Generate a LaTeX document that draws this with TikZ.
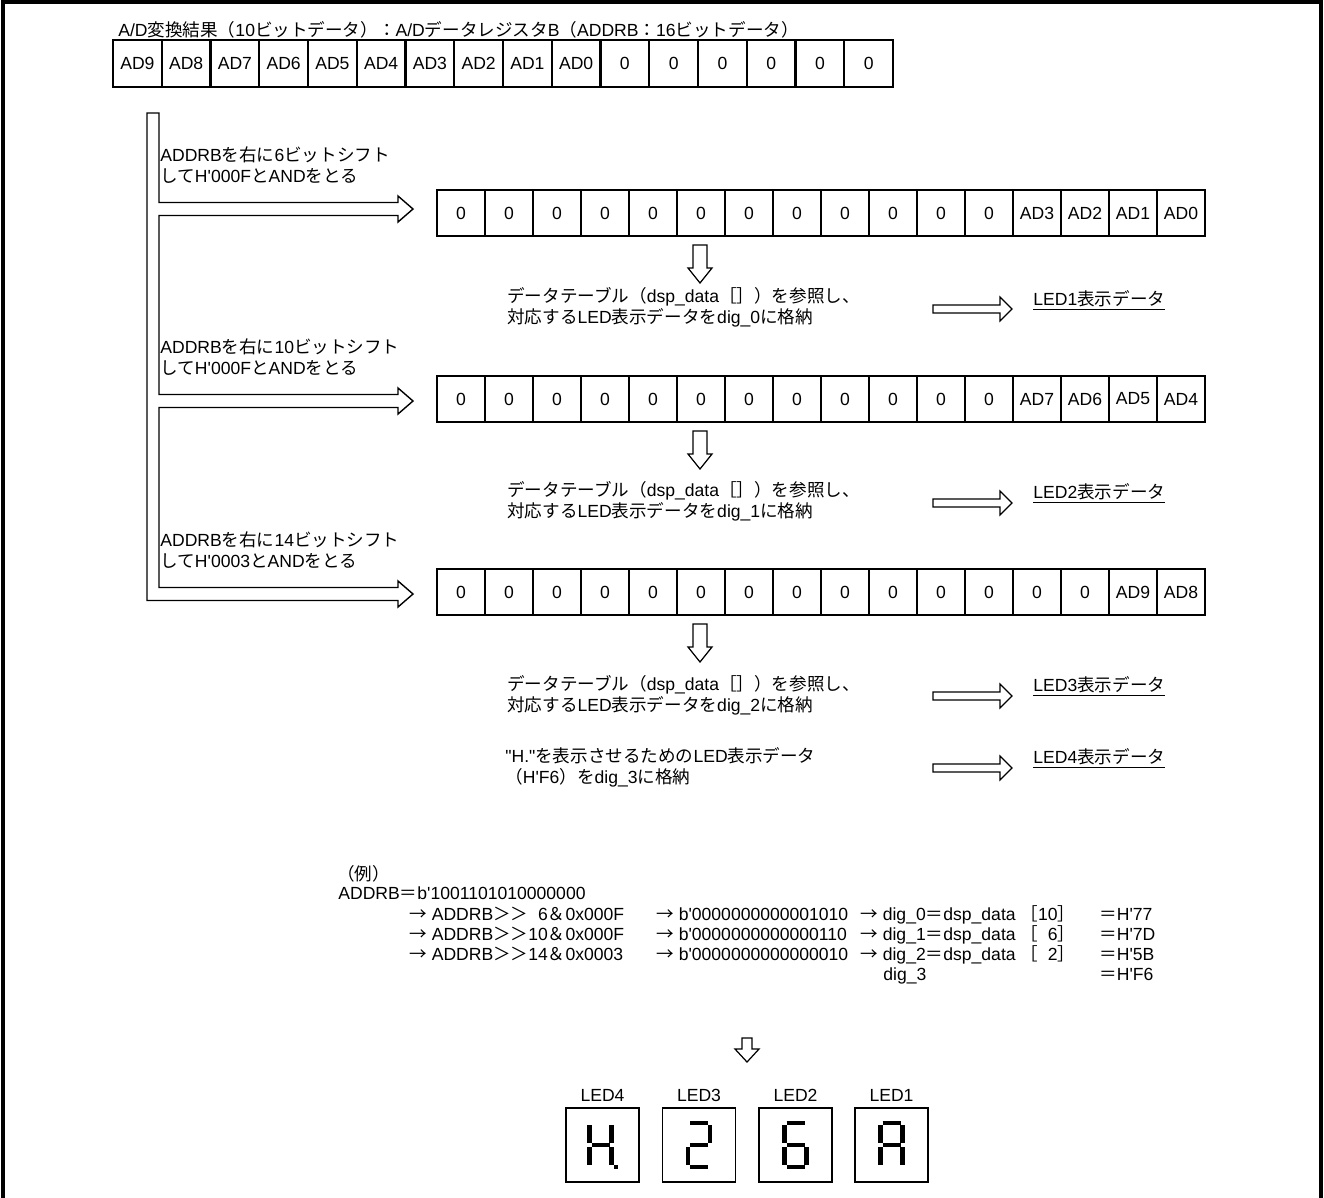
\documentclass[tikz,border=0pt]{standalone}
\usepackage{fontspec}
\setmainfont{Liberation Sans}[Ligatures=TeXOff]
\newfontfamily\jpfont{Noto Sans CJK JP}
% Japanese characters switch to the CJK font by themselves
\XeTeXinterchartokenstate=1
\newXeTeXintercharclass\jpclass
\makeatletter
\newcommand{\jprange}[2]{\count@=#1\relax
  \loop\XeTeXcharclass\count@=\jpclass
  \ifnum\count@<#2\relax\advance\count@ 1\repeat}
\makeatother
\jprange{"2190}{"2193}
\jprange{"3000}{"30FF}
\jprange{"4E00}{"9FFF}
\jprange{"FF00}{"FFEF}
\XeTeXinterchartoks 0 \jpclass = {\begingroup\jpfont}
\XeTeXinterchartoks 4095 \jpclass = {\begingroup\jpfont}
\XeTeXinterchartoks \jpclass 0 = {\endgroup}
\XeTeXinterchartoks \jpclass 4095 = {\endgroup}
\usepackage{tikz}
\tikzstyle{cnode} = [draw, line width=1.3pt, minimum width=0.96cm, minimum height=0.92cm, inner sep=0pt]
\tikzstyle{tnode} = [inner sep=0pt, anchor=west, align=left]
\tikzstyle{bnode} = [inner sep=0pt, anchor=base west]
\tikzstyle{ledbox} = [draw, line width=1pt, minimum width=1.46cm, minimum height=1.48cm, inner sep=0pt]
\tikzstyle{lnode} = [inner sep=0pt]
\tikzstyle{seg} = [line width=0.085cm]
\tikzstyle{line} = [draw, line width=0.8pt]
\tikzset{
  darrow/.pic={\draw[line width=0.7pt] (-7,0) -- (7,0) -- (7,23) -- (12,23) -- (0,38) -- (-12,23) -- (-7,23) -- cycle;},
  sarrow/.pic={\draw[line width=0.7pt] (-5,0) -- (5,0) -- (5,11) -- (12,11) -- (0,24) -- (-12,11) -- (-5,11) -- cycle;},
  rarrow/.pic={\draw[line width=0.7pt] (0,-4) -- (67,-4) -- (67,-12) -- (79,0) -- (67,12) -- (67,4) -- (0,4) -- cycle;}
}
% one segment of a LED digit: 0..6 = a..g, 7 = point
\newcommand{\ledseg}[1]{%
  \ifcase#1 \draw[seg] (-9,-22) -- (9,-22);
  \or \draw[seg] (11,-20) -- (11,-2);
  \or \draw[seg] (11,2) -- (11,20);
  \or \draw[seg] (-9,22) -- (9,22);
  \or \draw[seg] (-11,2) -- (-11,20);
  \or \draw[seg] (-11,-20) -- (-11,-2);
  \or \draw[seg] (-9,0) -- (9,0);
  \or \fill (13.5,20) rectangle (17.5,24);
  \fi}

\begin{document}
\begin{tikzpicture}[x=0.02cm, y=-0.02cm, font=\fontsize{10pt}{11.9pt}\selectfont, label distance=0.1cm]
\useasboundingbox (0,0) rectangle (1324,1197);
\draw[line width=0.07cm] (3,1200) -- (3,2) -- (1321,2) -- (1321,1200);

% A/D data register
\node[bnode] (title) at (118,36) {A/D変換結果（10ビットデータ）：A/DデータレジスタB（ADDRB：16ビットデータ）};
\foreach \lab [count=\i from 0] in {AD9,AD8,AD7,AD6,AD5,AD4,AD3,AD2,AD1,AD0,0,0,0,0,0,0}
  \node[cnode, minimum width=0.975cm, minimum height=0.94cm] (top\i) at ({137.375+48.75*\i}, 63.5) {\lab};

% shift paths
\path [line] (159,113) -- (159,202.5) -- (398,202.5) -- (398,196) -- (413,209) -- (398,222) -- (398,215.5)
  -- (159,215.5) -- (159,394.5) -- (398,394.5) -- (398,388) -- (413,401) -- (398,414) -- (398,407.5)
  -- (159,407.5) -- (159,587.5) -- (398,587.5) -- (398,581) -- (413,594) -- (398,607) -- (398,600.5)
  -- (147,600.5) -- (147,113) -- cycle;

\node[tnode] (sh1) at (160,165.5) {ADDRBを右に6ビットシフト\\してH'000FとANDをとる};
\node[tnode] (sh2) at (160,357.5) {ADDRBを右に10ビットシフト\\してH'000FとANDをとる};
\node[tnode] (sh3) at (160,550.5) {ADDRBを右に14ビットシフト\\してH'0003とANDをとる};

\foreach \lab [count=\i from 0] in {0,0,0,0,0,0,0,0,0,0,0,0,AD3,AD2,AD1,AD0}
  \node[cnode] (ra\i) at ({461+48*\i}, 213) {\lab};
\foreach \lab [count=\i from 0] in {0,0,0,0,0,0,0,0,0,0,0,0,AD7,AD6,AD5,AD4}
  \node[cnode] (rb\i) at ({461+48*\i}, 399) {\lab};
\foreach \lab [count=\i from 0] in {0,0,0,0,0,0,0,0,0,0,0,0,0,0,AD9,AD8}
  \node[cnode] (rc\i) at ({461+48*\i}, 592) {\lab};

% table lookups
\pic at (700,245) {darrow};
\pic at (700,431) {darrow};
\pic at (700,624) {darrow};
\node[tnode] (tab1) at (507,307.5) {データテーブル（dsp\_data［］）を参照し、\\対応するLED表示データをdig\_0に格納};
\node[tnode] (tab2) at (507,501.5) {データテーブル（dsp\_data［］）を参照し、\\対応するLED表示データをdig\_1に格納};
\node[tnode] (tab3) at (507,695.5) {データテーブル（dsp\_data［］）を参照し、\\対応するLED表示データをdig\_2に格納};
\node[tnode] (tab4) at (505,767.5) {"H."を表示させるためのLED表示データ\\（H'F6）をdig\_3に格納};
\pic at (933,309) {rarrow};
\pic at (933,503) {rarrow};
\pic at (933,696) {rarrow};
\pic at (933,768) {rarrow};
\node[bnode] (d1) at (1033,305) {\underline{LED1表示データ}};
\node[bnode] (d2) at (1033,498) {\underline{LED2表示データ}};
\node[bnode] (d3) at (1033,691) {\underline{LED3表示データ}};
\node[bnode] (d4) at (1033,763) {\underline{LED4表示データ}};

% example
\node[bnode] (ex) at (337,880) {（例）};
\node[bnode] (exv) at (338,899) {ADDRB＝b'1001101010000000};
\node[bnode] (ex1a) at (409,920) {→ ADDRB＞＞\phantom{1}6＆0x000F};
\node[bnode] (ex1b) at (656,920) {→ b'0000000000001010};
\node[bnode] (ex1c) at (860,920) {→ dig\_0＝dsp\_data\ ［10］};
\node[bnode] (ex1d) at (1099,920) {＝H'77};
\node[bnode] (ex2a) at (409,940) {→ ADDRB＞＞10＆0x000F};
\node[bnode] (ex2b) at (656,940) {→ b'0000000000000110};
\node[bnode] (ex2c) at (860,940) {→ dig\_1＝dsp\_data\ ［\phantom{1}6］};
\node[bnode] (ex2d) at (1099,940) {＝H'7D};
\node[bnode] (ex3a) at (409,960) {→ ADDRB＞＞14＆0x0003};
\node[bnode] (ex3b) at (656,960) {→ b'0000000000000010};
\node[bnode] (ex3c) at (860,960) {→ dig\_2＝dsp\_data\ ［\phantom{1}2］};
\node[bnode] (ex3d) at (1099,960) {＝H'5B};
\node[bnode] (ex4c) at (883,980) {dig\_3};
\node[bnode] (ex4d) at (1099,980) {＝H'F6};

% LED display
\pic at (747,1038) {sarrow};
\node[ledbox, label={[lnode]above:LED4}] (led4) at (602.5,1145) {};
\node[ledbox, label={[lnode]above:LED3}] (led3) at (699,1145) {};
\node[ledbox, label={[lnode]above:LED2}] (led2) at (795.5,1145) {};
\node[ledbox, label={[lnode]above:LED1}] (led1) at (891.5,1145) {};
\begin{scope}[shift={(led4.center)}, xshift=-0.04cm]
  \foreach \sg in {1,2,4,5,6,7} {\ledseg{\sg}}
\end{scope}
\begin{scope}[shift={(led3.center)}]
  \foreach \sg in {0,1,6,4,3} {\ledseg{\sg}}
\end{scope}
\begin{scope}[shift={(led2.center)}]
  \foreach \sg in {0,5,6,4,3,2} {\ledseg{\sg}}
\end{scope}
\begin{scope}[shift={(led1.center)}]
  \foreach \sg in {0,1,2,4,5,6} {\ledseg{\sg}}
\end{scope}
\end{tikzpicture}
\end{document}
